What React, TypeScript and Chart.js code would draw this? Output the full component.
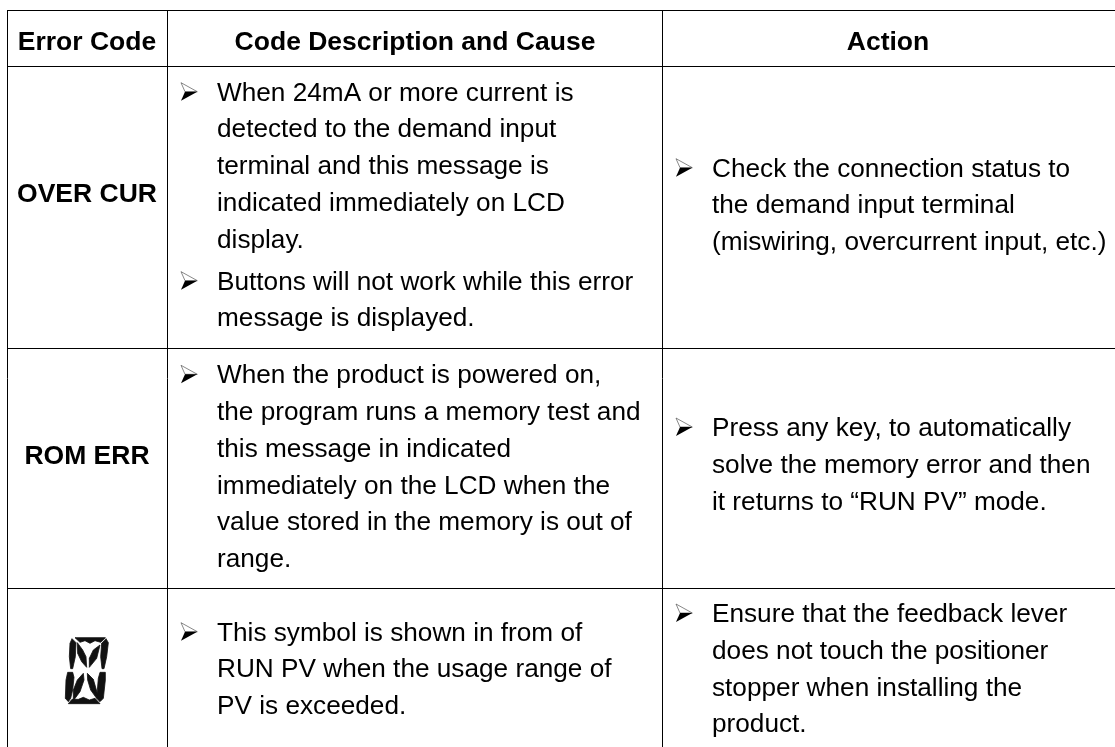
import { useEffect, useRef } from "react";
import { Chart, registerables } from "chart.js";

Chart.register(...registerables);

const headers = ["Error Code", "Code Description and Cause", "Action"];
const codes = ["OVER CUR", "ROM ERR"];

const row1Cause = [
  ["When 24mA or more current is", "detected to the demand input", "terminal and this message is", "indicated immediately on LCD", "display."],
  ["Buttons will not work while this error", "message is displayed."],
];
const row2Cause = [
  ["When the product is powered on,", "the program runs a memory test and", "this message in indicated", "immediately on the LCD when the", "value stored in the memory is out of", "range."],
];
const row3Cause = [["This symbol is shown in from of", "RUN PV when the usage range of", "PV is exceeded."]];
const row1Action = [["Check the connection status to", "the demand input terminal", "(miswiring, overcurrent input, etc.)"]];
const row2Action = [["Press any key, to automatically", "solve the memory error and then", "it returns to \u201cRUN PV\u201d mode."]];
const row3Action = [["Ensure that the feedback lever", "does not touch the positioner", "stopper when installing the", "product."]];

const columnEdges = [7.5, 167.5, 662.5];
const rowEdges = [10.5, 66.5, 348.5, 588.5];

const FONT = '"Liberation Sans", Arial, sans-serif';
const BODY_SIZE = 26.2;
const HEAD_SIZE = 26.5;
const PITCH = 36.75;
const GROUP_GAP = 5.2;

// [x of bullet, x of text, baseline of first line, groups of lines]
const cells: [number, number, number, string[][]][] = [
  [180, 217, 100.7, row1Cause],
  [180, 217, 383.3, row2Cause],
  [180, 217, 640.7, row3Cause],
  [675, 712, 176.7, row1Action],
  [675, 712, 436, row2Action],
  [675, 712, 622, row3Action],
];

const headerCenters = [87, 415, 888];
const headerBaseline = 49.5;
const codeCenter = 87;
const codeBaselines = [202.3, 464];

// Bullet arrowhead outline: [dx, dy] from the first-line baseline start
const bulletLight = [1, -18, 17.3, -9, 5, -9];
const bulletDark = [5, -9, 17.3, -9, 1, 0];

// Segments of the display glyph, in 3x reference pixel units
const segmentOrigin = [0, 590];
const segments = [
  [225, 143, 316, 143, 302, 157, 285, 152, 270, 160, 255, 152, 240, 157],
  [216, 146, 228, 158, 226, 200, 218, 236, 212, 236, 208, 200, 210, 160],
  [318, 146, 325, 158, 320, 200, 312, 236, 306, 236, 302, 200, 305, 160],
  [203, 247, 218, 247, 222, 262, 218, 300, 212, 325, 205, 335, 196, 325, 198, 270],
  [300, 247, 316, 247, 316, 270, 310, 325, 300, 335, 290, 325, 295, 265],
  [232, 158, 248, 180, 258, 200, 260, 232, 245, 215, 233, 190],
  [300, 165, 290, 205, 268, 232, 268, 205, 280, 180],
  [250, 250, 252, 270, 240, 305, 220, 332, 220, 300, 232, 270],
  [262, 250, 280, 268, 292, 310, 290, 325, 272, 300, 263, 270],
  [205, 341, 216, 328, 235, 328, 250, 322, 268, 330, 285, 325, 300, 341],
];

function polygon(ctx: any, pts: number[], map: (x: number, y: number) => [number, number]) {
  ctx.beginPath();
  for (let i = 0; i < pts.length; i += 2) {
    const [px, py] = map(pts[i], pts[i + 1]);
    if (i === 0) ctx.moveTo(px, py);
    else ctx.lineTo(px, py);
  }
  ctx.closePath();
}

const tablePlugin = {
  id: "tableText",
  afterDraw(chart: any) {
    const { ctx } = chart;
    const xs = chart.scales.x;
    const ys = chart.scales.y;
    const X = (v: number) => xs.getPixelForValue(v);
    const Y = (v: number) => ys.getPixelForValue(v);
    ctx.save();
    ctx.fillStyle = "#000";
    ctx.textBaseline = "alphabetic";

    ctx.textAlign = "center";
    ctx.font = `bold ${HEAD_SIZE}px ${FONT}`;
    headers.forEach((h, i) => ctx.fillText(h, X(headerCenters[i]), Y(headerBaseline)));
    codes.forEach((c, i) => ctx.fillText(c, X(codeCenter), Y(codeBaselines[i])));

    ctx.textAlign = "left";
    ctx.font = `${BODY_SIZE}px ${FONT}`;
    for (const [bx, tx, first, groups] of cells) {
      let y = first;
      for (const group of groups) {
        const at = (dx: number, dy: number): [number, number] => [X(bx + dx), Y(y + dy)];
        ctx.lineWidth = 0.7;
        ctx.strokeStyle = "#555";
        polygon(ctx, bulletLight, at);
        ctx.stroke();
        ctx.fillStyle = "#000";
        polygon(ctx, bulletDark, at);
        ctx.fill();
        for (const text of group) {
          ctx.fillText(text, X(tx), Y(y));
          y += PITCH;
        }
        y += GROUP_GAP;
      }
    }

    ctx.fillStyle = "#111";
    ctx.strokeStyle = "#111";
    ctx.lineWidth = 0.8;
    for (const seg of segments) {
      polygon(ctx, seg, (x, y) => [X(x / 3 + segmentOrigin[0]), Y(y / 3 + segmentOrigin[1])]);
      ctx.fill();
      ctx.stroke();
    }
    ctx.restore();
  },
};

export default function App() {
  const ref = useRef<HTMLCanvasElement>(null);
  useEffect(() => {
    const chart = new Chart(ref.current!, {
      type: "scatter",
      data: { datasets: [{ data: [] }] },
      plugins: [tablePlugin],
      options: {
        animation: false,
        responsive: false,
        layout: { padding: { left: 7, top: 10, right: 0, bottom: 0 } },
        plugins: { legend: { display: false }, title: { display: false }, tooltip: { enabled: false } },
        scales: {
          x: {
            type: "linear",
            min: 7,
            max: 1115,
            afterBuildTicks: (s: any) => { s.ticks = columnEdges.map((value) => ({ value })); },
            ticks: { display: false },
            border: { display: false },
            grid: { color: "#000", lineWidth: 1, drawTicks: false },
          },
          y: {
            type: "linear",
            reverse: true,
            min: 10,
            max: 747,
            afterBuildTicks: (s: any) => { s.ticks = rowEdges.map((value) => ({ value })); },
            ticks: { display: false },
            border: { display: false },
            grid: { color: "#000", lineWidth: 1, drawTicks: false },
          },
        },
      },
    } as any);
    return () => chart.destroy();
  }, []);
  return (
    <div style={{ position: "fixed", left: 0, top: 0, width: 1115, height: 747, background: "#fff" }}>
      <canvas ref={ref} width={1115} height={747} style={{ display: "block", width: 1115, height: 747 }} />
    </div>
  );
}
